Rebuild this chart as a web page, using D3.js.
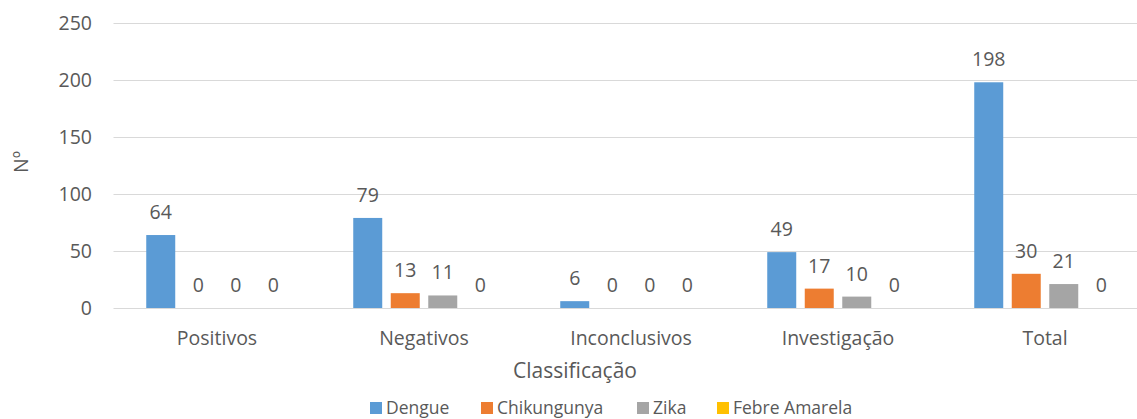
<!DOCTYPE html>
<html>
<head>
<meta charset="utf-8">
<script src="https://cdn.jsdelivr.net/npm/d3@7"></script>
<style>
  body { margin: 0; background: #fff; }
  text { font-family: "Open Sans", "Noto Sans", sans-serif; fill: #595959; }
</style>
</head>
<body>
<script>
const categories = ['Positivos', 'Negativos', 'Inconclusivos', 'Investigação', 'Total'];
const seriesNames = ['Dengue', 'Chikungunya', 'Zika', 'Febre Amarela'];
const dengue = [64, 79, 6, 49, 198];
const chikungunya = [0, 13, 0, 17, 30];
const zika = [0, 11, 0, 10, 21];
const febreAmarela = [0, 0, 0, 0, 0];
const yTicks = [0, 50, 100, 150, 200, 250];
const colors = ['#5b9bd5', '#ed7d31', '#a5a5a5', '#ffc000'];

const seriesValues = [dengue, chikungunya, zika, febreAmarela];
const fs = 19.5; // label font size

const width = 1137, height = 419;
const svg = d3.select('body').append('svg')
    .attr('width', width)
    .attr('height', height);

const x0 = d3.scaleBand()
    .domain(categories)
    .range([113.5, 1148.5]);

const x1 = d3.scaleBand()
    .domain(seriesNames)
    .range([0, x0.bandwidth()])
    .paddingInner(0.227)
    .paddingOuter(0.873);

const y = d3.scaleLinear()
    .domain([0, 250])
    .range([308, 23]);

// gridlines
svg.append('g')
    .selectAll('line')
    .data(yTicks)
    .join('line')
    .attr('x1', 113.5)
    .attr('x2', width)
    .attr('y1', d => Math.round(y(d)) + 0.5)
    .attr('y2', d => Math.round(y(d)) + 0.5)
    .attr('stroke', '#d9d9d9')
    .attr('stroke-width', 1);

// y axis labels
const yAxis = svg.append('g')
    .attr('transform', 'translate(92,0)')
    .call(d3.axisLeft(y).tickValues(yTicks).tickSize(0).tickPadding(0));
yAxis.select('.domain').remove();
yAxis.selectAll('text')
    .style('font-size', fs + 'px')
    .attr('fill', '#595959');

// x axis labels
const xAxis = svg.append('g')
    .attr('transform', 'translate(0,331)')
    .call(d3.axisBottom(x0).tickSize(0).tickPadding(0));
xAxis.select('.domain').remove();
xAxis.selectAll('text')
    .style('font-size', fs + 'px')
    .attr('fill', '#595959');

// bars
const groups = svg.append('g')
    .selectAll('g')
    .data(categories)
    .join('g')
    .attr('transform', d => `translate(${x0(d)},0)`);

const cells = groups.selectAll('g')
    .data((c, i) => seriesNames.map((s, j) => ({ s, j, v: seriesValues[j][i] })))
    .join('g');

cells.append('rect')
    .attr('x', d => x1(d.s))
    .attr('width', x1.bandwidth())
    .attr('y', d => y(d.v))
    .attr('height', d => y(0) - y(d.v))
    .attr('fill', d => colors[d.j]);

cells.append('text')
    .attr('x', d => x1(d.s) + x1.bandwidth() / 2)
    .attr('y', d => y(d.v) - 16)
    .attr('text-anchor', 'middle')
    .style('font-size', fs + 'px')
    .text(d => d.v);

// axis titles
svg.append('text')
    .attr('x', 575)
    .attr('y', 378)
    .attr('text-anchor', 'middle')
    .style('font-size', '21px')
    .text('Classificação');

svg.append('text')
    .attr('transform', 'translate(20,162) rotate(-90)')
    .attr('text-anchor', 'middle')
    .attr('dominant-baseline', 'central')
    .style('font-size', fs + 'px')
    .text('Nº');

// legend
const legendX = [370, 481, 637, 717];
const legend = svg.append('g')
    .selectAll('g')
    .data(seriesNames)
    .join('g')
    .attr('transform', (d, i) => `translate(${legendX[i]},402)`);

legend.append('rect')
    .attr('width', 12)
    .attr('height', 12)
    .attr('fill', (d, i) => colors[i]);

legend.append('text')
    .attr('x', 16)
    .attr('y', 12)
    .style('font-size', '17.5px')
    .text(d => d);
</script>
</body>
</html>
